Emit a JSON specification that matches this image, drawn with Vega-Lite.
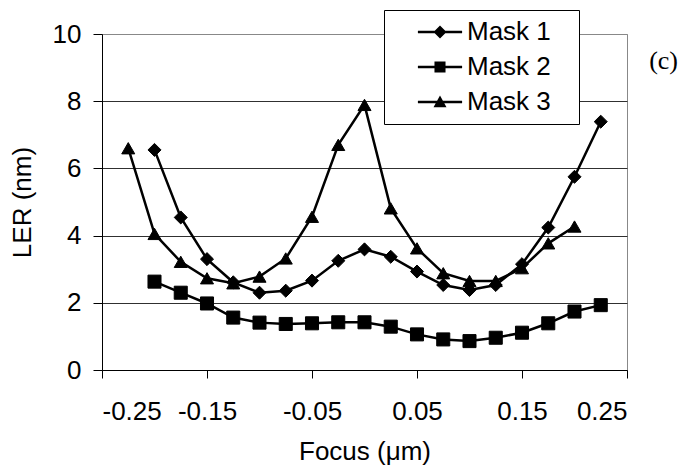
{
  "$schema": "https://vega.github.io/schema/vega-lite/v6.json",
  "autosize": "none",
  "width": 525,
  "height": 336,
  "padding": {"left": 102, "top": 34, "right": 64, "bottom": 100},
  "background": "white",
  "title": {
    "text": "(c)",
    "orient": "top",
    "anchor": "end",
    "frame": "group",
    "font": "Liberation Serif",
    "fontSize": 26,
    "fontWeight": "normal",
    "color": "black",
    "baseline": "middle",
    "offset": 0,
    "dx": 51,
    "dy": 77
  },
  "data": {
    "values": [
      {"focus": -0.2, "ler": 6.55, "mask": "Mask 1"},
      {"focus": -0.175, "ler": 4.54, "mask": "Mask 1"},
      {"focus": -0.15, "ler": 3.30, "mask": "Mask 1"},
      {"focus": -0.125, "ler": 2.61, "mask": "Mask 1"},
      {"focus": -0.1, "ler": 2.30, "mask": "Mask 1"},
      {"focus": -0.075, "ler": 2.36, "mask": "Mask 1"},
      {"focus": -0.05, "ler": 2.66, "mask": "Mask 1"},
      {"focus": -0.025, "ler": 3.25, "mask": "Mask 1"},
      {"focus": 0, "ler": 3.59, "mask": "Mask 1"},
      {"focus": 0.025, "ler": 3.37, "mask": "Mask 1"},
      {"focus": 0.05, "ler": 2.93, "mask": "Mask 1"},
      {"focus": 0.075, "ler": 2.53, "mask": "Mask 1"},
      {"focus": 0.1, "ler": 2.38, "mask": "Mask 1"},
      {"focus": 0.125, "ler": 2.53, "mask": "Mask 1"},
      {"focus": 0.15, "ler": 3.15, "mask": "Mask 1"},
      {"focus": 0.175, "ler": 4.24, "mask": "Mask 1"},
      {"focus": 0.2, "ler": 5.75, "mask": "Mask 1"},
      {"focus": 0.225, "ler": 7.39, "mask": "Mask 1"},
      {"focus": -0.2, "ler": 2.63, "mask": "Mask 2"},
      {"focus": -0.175, "ler": 2.30, "mask": "Mask 2"},
      {"focus": -0.15, "ler": 1.98, "mask": "Mask 2"},
      {"focus": -0.125, "ler": 1.56, "mask": "Mask 2"},
      {"focus": -0.1, "ler": 1.41, "mask": "Mask 2"},
      {"focus": -0.075, "ler": 1.37, "mask": "Mask 2"},
      {"focus": -0.05, "ler": 1.39, "mask": "Mask 2"},
      {"focus": -0.025, "ler": 1.42, "mask": "Mask 2"},
      {"focus": 0, "ler": 1.42, "mask": "Mask 2"},
      {"focus": 0.025, "ler": 1.29, "mask": "Mask 2"},
      {"focus": 0.05, "ler": 1.06, "mask": "Mask 2"},
      {"focus": 0.075, "ler": 0.91, "mask": "Mask 2"},
      {"focus": 0.1, "ler": 0.86, "mask": "Mask 2"},
      {"focus": 0.125, "ler": 0.96, "mask": "Mask 2"},
      {"focus": 0.15, "ler": 1.11, "mask": "Mask 2"},
      {"focus": 0.175, "ler": 1.39, "mask": "Mask 2"},
      {"focus": 0.2, "ler": 1.74, "mask": "Mask 2"},
      {"focus": 0.225, "ler": 1.93, "mask": "Mask 2"},
      {"focus": -0.225, "ler": 6.60, "mask": "Mask 3"},
      {"focus": -0.2, "ler": 4.05, "mask": "Mask 3"},
      {"focus": -0.175, "ler": 3.22, "mask": "Mask 3"},
      {"focus": -0.15, "ler": 2.73, "mask": "Mask 3"},
      {"focus": -0.125, "ler": 2.58, "mask": "Mask 3"},
      {"focus": -0.1, "ler": 2.78, "mask": "Mask 3"},
      {"focus": -0.075, "ler": 3.32, "mask": "Mask 3"},
      {"focus": -0.05, "ler": 4.56, "mask": "Mask 3"},
      {"focus": -0.025, "ler": 6.70, "mask": "Mask 3"},
      {"focus": 0, "ler": 7.89, "mask": "Mask 3"},
      {"focus": 0.025, "ler": 4.81, "mask": "Mask 3"},
      {"focus": 0.05, "ler": 3.62, "mask": "Mask 3"},
      {"focus": 0.075, "ler": 2.88, "mask": "Mask 3"},
      {"focus": 0.1, "ler": 2.65, "mask": "Mask 3"},
      {"focus": 0.125, "ler": 2.65, "mask": "Mask 3"},
      {"focus": 0.15, "ler": 3.03, "mask": "Mask 3"},
      {"focus": 0.175, "ler": 3.77, "mask": "Mask 3"},
      {"focus": 0.2, "ler": 4.27, "mask": "Mask 3"}
    ]
  },
  "encoding": {
    "x": {
      "field": "focus",
      "type": "quantitative",
      "scale": {"domain": [-0.25, 0.25], "nice": false, "zero": false},
      "axis": {
        "title": "Focus (μm)",
        "values": [-0.25, -0.15, -0.05, 0.05, 0.15, 0.25],
        "labelExpr": "'' + datum.value",
        "grid": false,
        "tickSize": 8,
        "labelPadding": 20,
        "titlePadding": 14
      }
    },
    "y": {
      "field": "ler",
      "type": "quantitative",
      "scale": {"domain": [0, 10], "nice": false},
      "axis": {
        "title": "LER (nm)",
        "values": [0, 2, 4, 6, 8, 10],
        "grid": true,
        "gridColor": {"condition": {"test": "datum.value === 10", "value": "#888888"}, "value": "#303030"},
        "tickSize": 9,
        "labelPadding": 12,
        "titlePadding": 17
      }
    }
  },
  "layer": [
    {
      "mark": {"type": "line", "color": "black", "strokeWidth": 2.5},
      "encoding": {"detail": {"field": "mask"}}
    },
    {
      "mark": {"type": "point", "filled": true, "color": "black", "stroke": "black", "strokeWidth": 1, "size": 170, "opacity": 1},
      "encoding": {
        "shape": {
          "field": "mask",
          "type": "nominal",
          "scale": {"domain": ["Mask 1", "Mask 2", "Mask 3"], "range": ["diamond", "square", "triangle-up"]},
          "legend": null
        }
      }
    },
    {
      "mark": {"type": "point", "filled": true, "color": "black", "size": 0},
      "encoding": {
        "shape": {
          "field": "mask",
          "type": "nominal",
          "scale": {
            "domain": ["Mask 1", "Mask 2", "Mask 3"],
            "range": [
              "M-3.4,-0.2H3.4V0.2H-3.4ZM0,-1L1,0L0,1L-1,0Z",
              "M-3.4,-0.2H3.4V0.2H-3.4ZM-0.85,-0.85H0.85V0.85H-0.85Z",
              "M-3.4,-0.2H3.4V0.2H-3.4ZM0,-1L1,0.8H-1Z"
            ]
          },
          "legend": {
            "title": null,
            "orient": "none",
            "legendX": 282,
            "legendY": -24,
            "strokeColor": "black",
            "fillColor": "white",
            "padding": 9,
            "symbolOffset": 34,
            "labelOffset": 14,
            "rowPadding": 9,
            "symbolSize": 169,
            "symbolFillColor": "black",
            "symbolStrokeColor": "black",
            "symbolOpacity": 1,
            "labelFontSize": 26,
            "labelColor": "black",
            "labelFont": "Liberation Sans",
            "labelExpr": "datum.label + '\u2800'"
          }
        }
      }
    }
  ],
  "resolve": {"scale": {"shape": "independent"}, "legend": {"shape": "independent"}},
  "config": {
    "font": "Liberation Sans",
    "view": {"stroke": "#888888", "strokeWidth": 1},
    "axis": {
      "domainColor": "black",
      "domainWidth": 1,
      "tickColor": "black",
      "tickWidth": 1,
      "labelColor": "black",
      "labelFontSize": 26,
      "labelFont": "Liberation Sans",
      "titleColor": "black",
      "titleFontSize": 26,
      "titleFont": "Liberation Sans",
      "titleFontWeight": "normal",
      "gridWidth": 1
    }
  }
}
